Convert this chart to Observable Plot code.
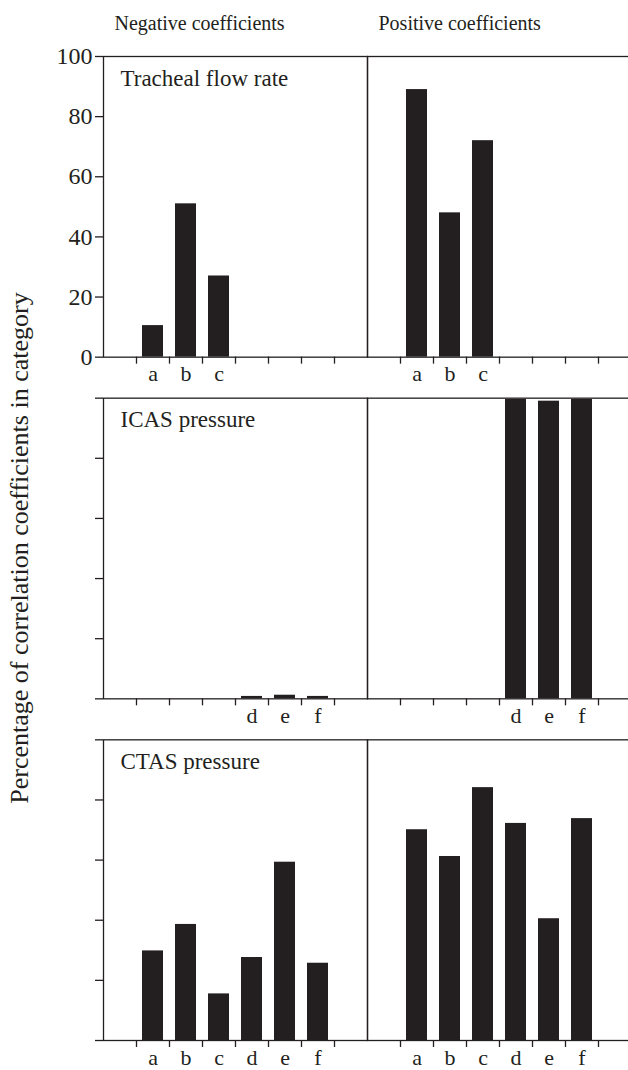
<!DOCTYPE html>
<html>
<head>
<meta charset="utf-8">
<script src="https://cdn.jsdelivr.net/npm/d3@7"></script>
<script src="https://cdn.jsdelivr.net/npm/@observablehq/plot@0.6"></script>
<style>
  html, body { margin: 0; padding: 0; background: #fff; }
  #wrap { position: relative; width: 628px; height: 1070px; overflow: hidden; }
  #ytitle {
    position: absolute; left: 20px; top: 548px;
    transform: translate(-50%, -50%) rotate(-90deg);
    white-space: nowrap;
    font-family: 'Liberation Serif', 'Times New Roman', Tinos, Times, 'DejaVu Serif', 'Noto Serif', serif;
    font-size: 26px; color: #231f20;
  }
</style>
</head>
<body>
<div id="wrap"><div id="ytitle">Percentage of correlation coefficients in category</div></div>
<script>
// ---- data ----
const categories = ["a", "b", "c", "d", "e", "f"];
const panels = ["Tracheal flow rate", "ICAS pressure", "CTAS pressure"];
const columns = ["Negative coefficients", "Positive coefficients"];
const yTicks = [0, 20, 40, 60, 80, 100];

const trachealCats = ["a", "b", "c"];
const trachealNeg = [10.5, 51, 27];
const trachealPos = [89, 48, 72];

const icasCats = ["d", "e", "f"];
const icasNeg = [0.8, 1.2, 0.8];
const icasPos = [99.6, 99, 99.6];

const ctasCats = ["a", "b", "c", "d", "e", "f"];
const ctasNeg = [29.8, 38.6, 15.5, 27.6, 59.3, 25.7];
const ctasPos = [70.1, 61.2, 84.1, 72.2, 40.5, 73.8];

// ---- table ----
const records = [];
function add(panel, cats, neg, pos) {
  cats.forEach((c, i) => {
    records.push({panel, column: columns[0], cat: c, value: neg[i]});
    records.push({panel, column: columns[1], cat: c, value: pos[i]});
  });
}
add(panels[0], trachealCats, trachealNeg, trachealPos);
add(panels[1], icasCats, icasNeg, icasPos);
add(panels[2], ctasCats, ctasNeg, ctasPos);

const ink = "#231f20";
const lastCat = categories[categories.length - 1];
const serif = "'Liberation Serif', 'Times New Roman', Tinos, Times, 'DejaVu Serif', 'Noto Serif', serif";

const chart = Plot.plot({
  width: 628,
  height: 1070,
  marginTop: 56,
  marginBottom: 30,
  marginLeft: 103,
  marginRight: -3,
  style: {fontFamily: serif, fontSize: "20px", color: ink, background: "transparent", overflow: "visible"},
  fx: {domain: columns, paddingInner: 0, paddingOuter: 0, round: false, axis: null},
  fy: {domain: panels, paddingInner: 0.12, paddingOuter: 0, round: false, axis: null},
  x: {type: "band", domain: categories, paddingInner: 0, paddingOuter: 1, round: false, axis: null},
  y: {domain: [0, 100], axis: null},
  marks: [
    Plot.barY(records, {x: "cat", y: "value", fx: "column", fy: "panel", fill: ink, insetLeft: 6, insetRight: 6}),
    Plot.frame({stroke: ink, strokeWidth: 1.3}),
    // y ticks on the left of each row
    Plot.axisY({ticks: yTicks, tickSize: 8, tickFormat: () => "", label: null, stroke: ink, strokeWidth: 1.3}),
    // y tick labels (top row only)
    Plot.text(yTicks, {y: d => d, text: d => String(d), fx: () => columns[0], fy: () => panels[0],
      frameAnchor: "left", dx: -11, textAnchor: "end", fontSize: 24, fill: ink}),
    // x ticks at category boundaries
    Plot.axisX({ticks: categories, tickSize: 7, tickFormat: () => "", label: null, dx: -16.5, facetAnchor: null, stroke: ink, strokeWidth: 1.3}),
    Plot.axisX({ticks: [lastCat], tickSize: 7, tickFormat: () => "", label: null, dx: 16.5, facetAnchor: null, stroke: ink, strokeWidth: 1.3}),
    // category letters
    Plot.text(records, {x: "cat", fx: "column", fy: "panel", text: "cat", frameAnchor: "bottom", dy: 24, lineAnchor: "bottom", fontSize: 22, fill: ink}),
    // panel labels
    Plot.text(panels, {fy: d => d, fx: () => columns[0], text: d => d, frameAnchor: "top-left", dx: 17, dy: 29, lineAnchor: "bottom", textAnchor: "start", fontSize: 23, fill: ink}),
    // column headers
    Plot.text(columns, {fx: d => d, fy: () => panels[0], text: d => d, frameAnchor: "top-left", dx: 11, dy: -27, lineAnchor: "bottom", textAnchor: "start", fontSize: 20, fill: ink})
  ]
});
chart.style.position = "absolute";
chart.style.left = "0";
chart.style.top = "0";
document.getElementById("wrap").prepend(chart);
</script>
</body>
</html>
